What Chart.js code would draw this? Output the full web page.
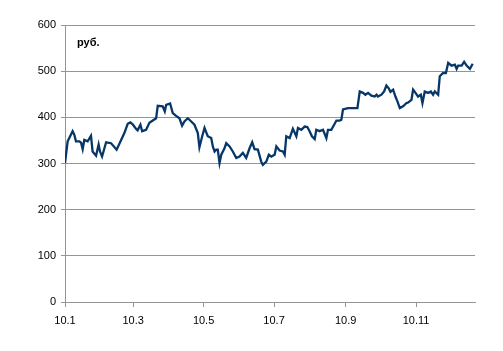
<!DOCTYPE html>
<html>
<head>
<meta charset="utf-8">
<script src="https://cdn.jsdelivr.net/npm/chart.js@4"></script>
<style>
html,body{margin:0;padding:0;background:#fff;}
canvas{display:block;}
</style>
</head>
<body>
<canvas id="c" width="503" height="351"></canvas>
<script>
// Day offsets from 1 Jan 2010 and prices (руб.)
const days = [0,2.3,3.7,6.6,8.1,9.5,12.4,13.9,15.3,16.7,19.6,22.5,23.9,26.9,29.1,30.3,32.1,35.6,39.9,44.7,48.6,51.4,54.3,56.6,58.6,61.6,62.9,65.3,66.8,70.2,73.1,76.0,78.9,80.3,84.6,86.4,87.6,91.0,93.3,96.2,99.1,101.4,103.4,106.3,109.3,112.1,115.0,116.4,118.8,120.8,123.6,126.6,128.0,129.5,130.9,132.3,133.8,135.3,138.1,139.6,142.5,145.3,148.3,151.1,154.0,156.9,159.8,162.1,164.1,167.0,169.9,171.3,174.3,176.5,178.6,181.5,183.0,185.8,188.7,190.2,191.6,194.5,197.3,200.3,201.7,204.6,207.5,209.8,211.8,213.8,216.2,217.6,220.5,223.4,226.3,227.7,230.6,233.5,235.0,237.8,239.3,240.7,245.0,249.4,253.2,255.2,258.0,260.1,262.4,265.3,268.2,269.7,271.0,274.0,276.3,278.3,280.3,281.8,284.1,286.1,287.9,289.9,292.7,295.7,297.1,300.0,301.4,303.5,305.7,308.1,309.5,311.5,314.4,316.8,318.7,320.2,323.1,324.5,327.4,329.8,331.8,334.7,337.6,339.1,340.4,343.4,345.6,347.7,350.6,353.0];
const prices = [301,348,355,370,362,348,348,345,331,351,348,360,326,317,341,326,315,346,344,330,351,366,386,389,385,375,372,384,370,373,388,393,398,425,424,413,427,430,409,403,398,382,391,398,391,384,366,335,359,377,359,355,337,326,330,330,301,319,333,344,337,326,312,315,323,312,333,346,331,330,304,297,304,319,315,319,337,328,326,319,359,355,375,359,377,373,380,379,370,359,353,373,370,373,355,373,373,386,393,393,395,417,420,420,420,456,453,449,453,447,445,449,445,449,456,469,463,455,460,445,434,420,424,431,432,438,460,453,445,449,431,456,453,456,449,456,449,489,496,496,518,512,514,505,512,512,520,512,505,516];
// Tick positions (day offsets) and labels
const tickDays = [0,59,120,181,243,304];
const tickLabels = ['10.1','10.3','10.5','10.7','10.9','10.11'];
const unitLabel = 'руб.';

const points = days.map((d,i)=>({x:d,y:prices[i]}));
const FONT = "'Liberation Sans', Arial, sans-serif";

const unitPlugin = {
  id:'unit',
  afterDraw(chart){
    const ctx = chart.ctx;
    ctx.save();
    ctx.font = "bold 11px " + FONT;
    ctx.fillStyle = '#000';
    ctx.textBaseline = 'alphabetic';
    ctx.fillText(unitLabel, chart.chartArea.left + 12, 46);
    ctx.restore();
  }
};

new Chart(document.getElementById('c'), {
  type:'line',
  data:{datasets:[{data:points,borderColor:'#073768',borderWidth:2.3,pointRadius:0,tension:0,fill:false}]},
  options:{
    responsive:false,animation:false,
    layout:{padding:{left:0,right:28,top:25,bottom:0}},
    plugins:{legend:{display:false},tooltip:{enabled:false}},
    scales:{
      x:{
        type:'linear',min:0,max:355,
        afterBuildTicks(s){ s.ticks = tickDays.map(v=>({value:v})); },
        afterFit(s){ s.height = 49; },
        ticks:{
          autoSkip:false,maxRotation:0,padding:7,color:'#000',
          font:{family:FONT,size:11},
          callback(v){ const i = tickDays.indexOf(v); return i>=0 ? tickLabels[i] : ''; }
        },
        grid:{drawOnChartArea:false,color:'#959595',tickLength:5},
        border:{color:'#959595',width:1}
      },
      y:{
        min:0,max:600,
        afterFit(s){ s.width = 65; },
        ticks:{stepSize:100,padding:5,color:'#000',font:{family:FONT,size:11}},
        grid:{color:'#959595',tickLength:4},
        border:{color:'#959595',width:1}
      }
    }
  },
  plugins:[unitPlugin]
});
</script>
</body>
</html>
